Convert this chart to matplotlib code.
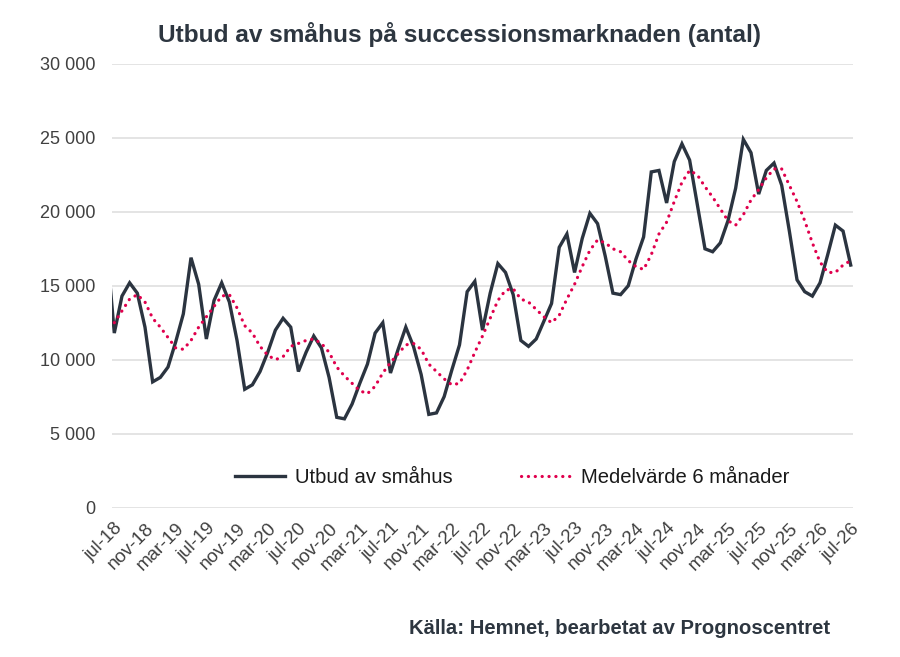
import matplotlib
matplotlib.use('Agg')
import matplotlib.pyplot as plt
import matplotlib.transforms as mtransforms
import numpy as np

plt.rcParams['font.family'] = ['Liberation Sans', 'DejaVu Sans']

# Monthly supply, jun-18 .. jul-26 (first value only partly visible)
utbud = [17800,
         11800, 14300, 15200, 14500, 12200, 8500, 8800, 9500, 11200, 13100,
         16900, 15100, 11400, 14000, 15200, 13900, 11300, 8000, 8300, 9200,
         10500, 12000, 12800, 12200, 9200, 10500, 11600, 10800, 8800, 6100,
         6000, 7000, 8400, 9700, 11800, 12500, 9100, 10700, 12200, 10900,
         9000, 6300, 6400, 7500, 9300, 11000, 14600, 15300, 12000, 14500,
         16500, 15900, 14400, 11300, 10900, 11400, 12600, 13800, 17600, 18500,
         15900, 18200, 19900, 19200, 17000, 14500, 14400, 15000, 16800, 18300,
         22700, 22800, 20600, 23400, 24600, 23500, 20500, 17500, 17300, 17900,
         19400, 21600, 24900, 24000, 21200, 22800, 23300, 21800, 18700, 15400,
         14600, 14300, 15200, 17100, 19100, 18700, 16400]

# 6-month average, jul-18 .. jul-26
medel = [12500, 13300, 14100, 14400, 13900, 12800, 12200, 11500, 10800, 10700,
         11300, 12200, 12900, 13600, 14300, 14400, 13500, 12300, 11800, 10900,
         10300, 10000, 10200, 10900, 11100, 11300, 11400, 11100, 10500, 9500,
         8900, 8400, 7900, 7700, 8200, 9100, 9800, 10400, 11000, 11100,
         10700, 9700, 9200, 8700, 8300, 8400, 9300, 10500, 11600, 12800,
         14000, 14700, 14800, 14100, 13900, 13400, 12900, 12500, 13000, 14100,
         15100, 16300, 17400, 18100, 17900, 17500, 17300, 16700, 16300, 16100,
         17100, 18500, 19300, 20700, 22000, 22800, 22500, 21700, 21000, 20200,
         19400, 19100, 19800, 20800, 21500, 22300, 22900, 22900, 21800, 20700,
         19400, 17900, 16600, 15900, 15900, 16400, 16700]

x_labels = ['jul-18', 'nov-18', 'mar-19', 'jul-19', 'nov-19', 'mar-20', 'jul-20',
            'nov-20', 'mar-21', 'jul-21', 'nov-21', 'mar-22', 'jul-22', 'nov-22',
            'mar-23', 'jul-23', 'nov-23', 'mar-24', 'jul-24', 'nov-24', 'mar-25',
            'jul-25', 'nov-25', 'mar-26', 'jul-26']
y_ticks = [0, 5000, 10000, 15000, 20000, 25000, 30000]
y_labels = ['0', '5 000', '10 000', '15 000', '20 000', '25 000', '30 000']

text_col = '#404040'
dark = '#2b3440'
red = '#e0004d'

fig = plt.figure(figsize=(9, 6.57), dpi=100)
ax = fig.add_axes([0.1241, 0.2275, 0.8237, 0.6751])

x_utbud = np.arange(len(utbud)) - 1
x_medel = np.arange(len(medel))

ax.plot(x_utbud, utbud, color=dark, lw=2.4, solid_joinstyle='miter',
        label='Utbud av småhus', zorder=3)
ax.plot(x_medel, medel, color=red, lw=2.3, linestyle=(0, (0.05, 2.1)),
        dash_capstyle='round', label='Medelvärde 6 månader', zorder=4)

ax.set_xlim(-0.34, 96.3)
ax.set_ylim(0, 30000)
ax.set_yticks(y_ticks)
ax.set_yticklabels(y_labels, fontsize=13, color=text_col)
ax.set_xticks(np.arange(0, len(medel), 4))
ax.set_xticklabels(x_labels, fontsize=13.5, color=text_col, rotation=45,
                   ha='right', va='top', rotation_mode='anchor')
# nudge the rotated labels a little left, like the original
shift = mtransforms.ScaledTranslation(-4 / 100, -2 / 100, fig.dpi_scale_trans)
for lbl in ax.get_xticklabels():
    lbl.set_transform(lbl.get_transform() + shift)
ax.tick_params(length=0)
ax.tick_params(axis='y', pad=12)
ax.tick_params(axis='x', pad=9)
ax.grid(axis='y', color='#e4e4e4', lw=1.4)
ax.set_axisbelow(True)
for s in ax.spines.values():
    s.set_visible(False)

ax.legend(loc='center', bbox_to_anchor=(0.54, 0.067), ncol=2, frameon=False,
          fontsize=14.6, handlelength=2.5, columnspacing=3.4, handletextpad=0.45,
          labelcolor='#1a1a1a')

fig.text(0.511, 0.948, 'Utbud av småhus på successionsmarknaden (antal)',
         ha='center', va='center', fontsize=17.6, fontweight='bold', color='#2d3640')
fig.text(0.922, 0.044, 'Källa: Hemnet, bearbetat av Prognoscentret',
         ha='right', va='center', fontsize=14.6, fontweight='bold', color='#2d3640')

fig.savefig('out.png', dpi=100)
